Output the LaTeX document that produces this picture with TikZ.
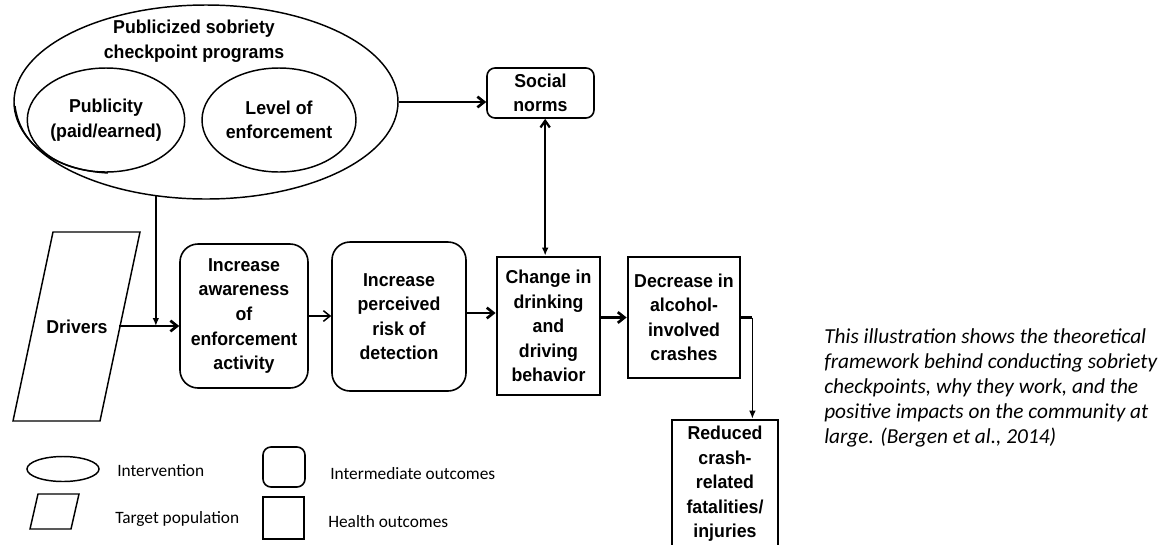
\documentclass[tikz,border=0pt]{standalone}
\usepackage{fontspec}
\setmainfont{Liberation Sans}[FakeStretch=0.95]
\newfontfamily\calib{Carlito}
\usetikzlibrary{shapes.geometric,arrows.meta,calc}
\begin{document}
\begin{tikzpicture}[x=0.75pt,y=-0.75pt,
  lbl/.style={font=\bfseries\fontsize{14}{18.4}\selectfont, align=center, text=black},
  ell/.style={draw, ellipse, line width=1.1pt, inner sep=0pt},
  rbox/.style={draw, rectangle, rounded corners=#1, line width=1.2pt, inner sep=0pt, lbl},
  hbox/.style={draw, rectangle, line width=2.1pt, inner sep=0pt, lbl},
  barb/.style={-{Straight Barb[length=5pt,width=8pt]}},
  tri/.style={-{Latex[length=6pt,width=5pt]}},
  dbl/.style={{Straight Barb[length=5pt,width=7pt]}-{Latex[length=6pt,width=5pt]}},
  heavy/.style={line width=2pt},
  light/.style={line width=1.1pt},
  hair/.style={line width=0.9pt},
  legtxt/.style={font=\calib\fontsize{13}{16}\selectfont, anchor=base west, inner sep=0pt},
  captxt/.style={font=\calib\itshape\fontsize{16}{18.75}\selectfont, align=left, anchor=west, inner sep=0pt}
]
\useasboundingbox (0,0) rectangle (1160,544);
\fill[white] (0,0) rectangle (1160,544);

% intervention ellipses
\node[ell, minimum width=288pt, minimum height=145.5pt] (big) at (206,102) {};
\draw[light] (15,106) .. controls (20,145) and (55,170) .. (108,173);
\node[lbl] (title) at (194,41) {Publicized sobriety\\checkpoint programs};
\node[ell, lbl, minimum width=113.25pt, minimum height=78pt] (pub) at (106,120) {Publicity\\(paid/earned)};
\node[ell, lbl, minimum width=115.5pt, minimum height=78pt] (lev) at (279,120) {Level of\\enforcement};

% social norms
\node[rbox=6pt, minimum width=80.25pt, minimum height=37.5pt] (social) at (540.5,93) {Social\\norms};

% target population
\draw[light] (53,232) -- (140,232) -- (100,421) -- (13,421) -- cycle;
\node[lbl] (drivers) at (77,327) {Drivers};
\coordinate (drvR) at (119,326);

% intermediate outcomes
\node[rbox=13.5pt, minimum width=96pt, minimum height=108pt] (aware) at (244,316)
  {Increase\\awareness\\of\\enforcement\\activity};
\node[rbox=13.5pt, minimum width=100.5pt, minimum height=111.75pt] (perc) at (399,316.5)
  {Increase\\perceived\\risk of\\detection};

% health outcomes
\node[hbox, minimum width=77.25pt, minimum height=103.5pt] (change) at (548.5,326)
  {Change in\\drinking\\and\\driving\\behavior};
\node[hbox, minimum width=84pt, minimum height=90.75pt] (decr) at (684,317.5)
  {Decrease in\\alcohol-\\involved\\crashes};
\node[hbox, minimum width=79.5pt, minimum height=96pt] (red) at (725,484)
  {Reduced\\crash-\\related\\fatalities/\\injuries};

% connectors
\draw[heavy, barb] (big.east) -- (big.east -| social.west);
\draw[heavy, barb] (drvR) -- (drvR -| aware.west);
\coordinate (junc) at (156,326);
\draw[heavy, tri] (big.242) -- (big.242 |- junc);
\draw[light, barb] (aware.east) -- (aware.east -| perc.west);
\draw[heavy, barb] ([yshift=3.5*0.75pt]perc.east) -- ([yshift=3.5*0.75pt]perc.east -| change.west);
\draw[heavy, barb] (decr.west -| change.east) -- (decr.west);
\coordinate (sn) at ([xshift=3.5pt]social.south);
\draw[line width=1.7pt, dbl] (sn) -- (sn |- change.north);
\coordinate (bend) at ([xshift=8.25pt]decr.east);
\draw[heavy] (decr.east) -- (bend);
\draw[hair, tri] (bend) -- (bend |- red.north);

% caption
\node[captxt] (cap) at (824,388) {This illustration shows the theoretical\\framework behind conducting sobriety\\checkpoints, why they work, and the\\positive impacts on the community at\\large. (Bergen et al., 2014)};

% legend
\node[ell, minimum width=54pt, minimum height=18.75pt] (lgell) at (63,469) {};
\node[legtxt] (lgint) at (117,476) {Intervention};
\draw[light] (38,494) -- (79,494) -- (71,529) -- (30,529) -- cycle;
\node[legtxt] (lgtar) at (115,523) {Target population};
\node[draw, rectangle, rounded corners=6pt, line width=1.2pt, minimum width=31.5pt, minimum height=30pt] (lgrbox) at (284,467) {};
\node[legtxt] (lgmid) at (330,479) {Intermediate outcomes};
\node[draw, rectangle, line width=2pt, minimum width=30.75pt, minimum height=31.5pt] (lghbox) at (283.5,518) {};
\node[legtxt] (lghea) at (328,527) {Health outcomes};
\end{tikzpicture}
\end{document}
